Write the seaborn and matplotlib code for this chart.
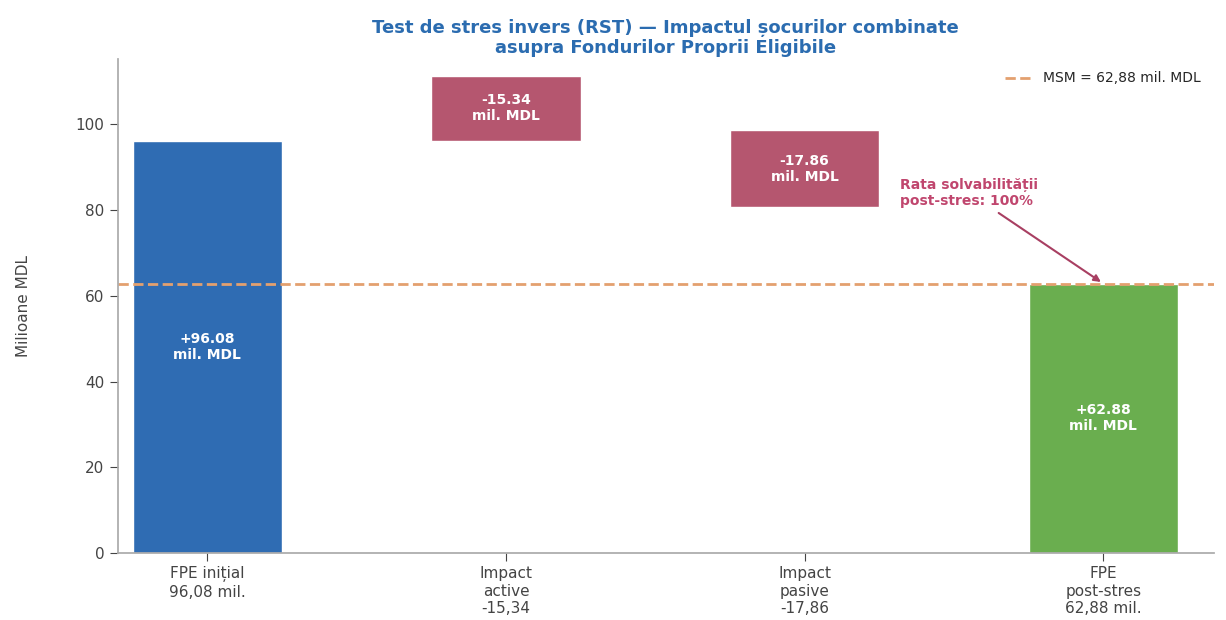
import seaborn as sns
import pandas as pd
import matplotlib.pyplot as plt

# valori (mil. MDL)
categorii = ["FPE inițial\n96,08 mil.", "Impact\nactive\n-15,34",
             "Impact\npasive\n-17,86", "FPE\npost-stres\n62,88 mil."]
fpe_initial = 96.08
impact_active = -15.34
impact_pasive = -17.86
fpe_post = 62.88
msm = 62.88

blue = "#2f6cb3"
red = "#b5566f"
green = "#6aae4f"
orange = "#e3a06f"

sns.set_theme(style="ticks")
plt.rcParams['font.family'] = ['DejaVu Sans']

fig, ax = plt.subplots(figsize=(12.26, 6.2), dpi=100)

totals = pd.DataFrame({"cat": [categorii[0], categorii[3]],
                       "val": [fpe_initial, fpe_post]})
sns.barplot(data=totals, x="cat", y="val", order=categorii, hue="cat",
            palette=[blue, green], width=0.5, saturation=1, legend=False, ax=ax)

# casutele pentru impact (asa cum apar in graficul original)
ax.bar(1, abs(impact_active), bottom=fpe_initial, width=0.5, color=red)
ax.bar(2, abs(impact_pasive), bottom=fpe_initial + impact_active, width=0.5, color=red)

ax.axhline(msm, color=orange, ls="--", lw=2, label="MSM = 62,88 mil. MDL")

lab_kw = dict(ha="center", va="center", color="white", fontweight="bold", fontsize=10)
ax.text(0, fpe_initial / 2, f"+{fpe_initial:.2f}\nmil. MDL", **lab_kw)
ax.text(3, fpe_post / 2, f"+{fpe_post:.2f}\nmil. MDL", **lab_kw)
ax.text(1, fpe_initial + abs(impact_active) / 2, f"{impact_active:.2f}\nmil. MDL", **lab_kw)
ax.text(2, fpe_initial + impact_active + abs(impact_pasive) / 2,
        f"{impact_pasive:.2f}\nmil. MDL", **lab_kw)

ax.annotate("Rata solvabilității\npost-stres: 100%", xy=(3, msm), xytext=(2.32, 84),
            color="#c0466e", fontweight="bold", fontsize=10, ha="left", va="center",
            arrowprops=dict(arrowstyle="-|>", color="#a83f62", lw=1.5))

ax.set_xlim(-0.3, 3.37)
ax.set_ylim(0, 115.3)
ax.set_xlabel("")
ax.set_ylabel("Milioane MDL", fontsize=11, color="#444444", labelpad=32)
ax.tick_params(labelsize=11, colors="#444444", width=0.8)
ax.set_title("Test de stres invers (RST) — Impactul șocurilor combinate\n"
             "asupra Fondurilor Proprii Eligibile",
             fontsize=13, fontweight="bold", color="#2b6cb0", pad=4)
ax.legend(loc="upper right", frameon=False, fontsize=10)
sns.despine(ax=ax)
for s in ["left", "bottom"]:
    ax.spines[s].set_color("#aaaaaa")

plt.subplots_adjust(left=0.096, right=0.99, top=0.905, bottom=0.108)
plt.savefig("out.png", dpi=100)
